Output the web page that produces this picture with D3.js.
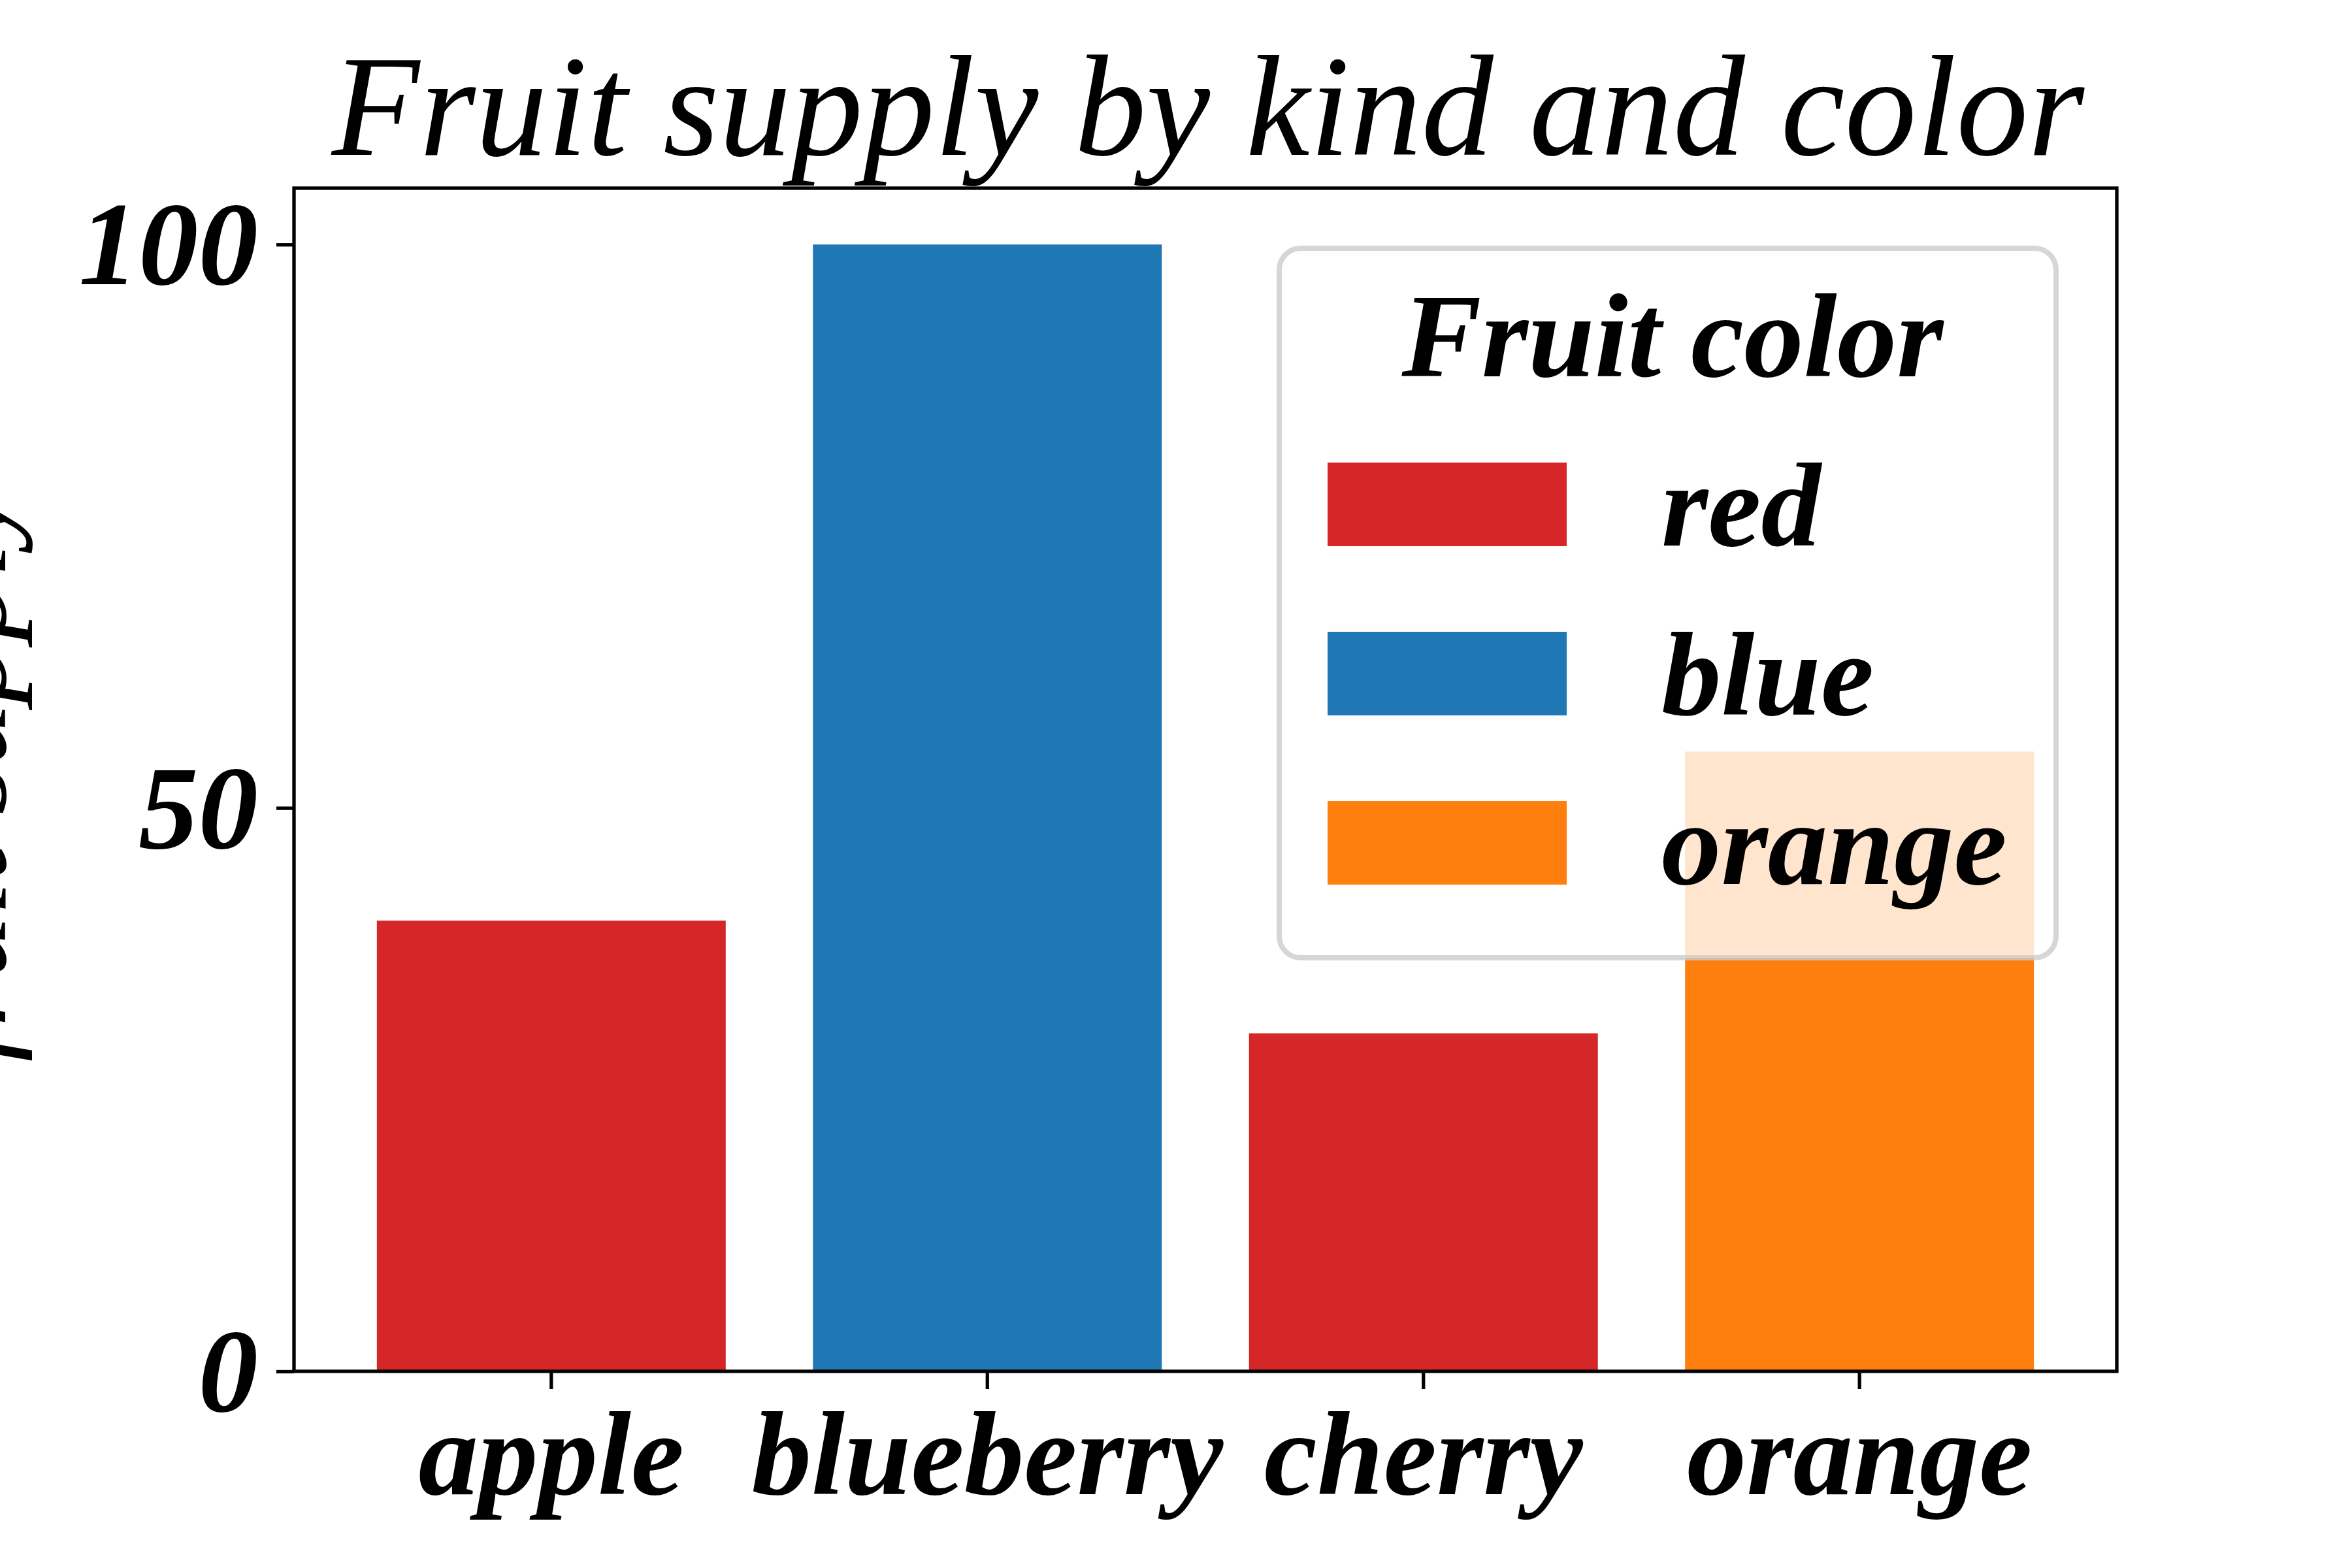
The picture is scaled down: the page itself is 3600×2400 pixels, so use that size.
<!DOCTYPE html>
<meta charset="utf-8">
<style> /* set the CSS */

body {
  margin: 0;
  background: #fff;
}

text {
  font-family: "Liberation Serif", "DejaVu Serif", serif;
  fill: #000;
}

.title, .ylabel {
  font-style: italic;
  font-weight: normal;
}

.tick text, .legend text {
  font-style: italic;
  font-weight: bold;
  font-size: 183px;
}
</style>
<body>

<!-- load the d3.js library -->
<script src="https://d3js.org/d3.v7.min.js"></script>
<script>

// the data
var fruits = ["apple", "blueberry", "cherry", "orange"];
var counts = [40, 100, 30, 55];
var barColors = ["#d62728", "#1f77b4", "#d62728", "#ff7f0e"];
var legendLabels = ["red", "blue", "orange"];
var legendColors = ["#d62728", "#1f77b4", "#ff7f0e"];
var yTicks = [0, 50, 100];

// set the dimensions and margins of the graph
var W = 3600, H = 2400;
var margin = {top: 288, right: 360, bottom: 301, left: 450},
    width = W - margin.left - margin.right,
    height = H - margin.top - margin.bottom;

// set the ranges
var x = d3.scaleBand()
    .domain(fruits)
    .range([0, width])
    .paddingInner(0.2)
    .paddingOuter(0.19);
var y = d3.scaleLinear().domain([0, 105]).range([height, 0]);

var svg = d3.select("body").append("svg")
    .attr("width", W)
    .attr("height", H);

var g = svg.append("g")
    .attr("transform", "translate(" + margin.left + "," + margin.top + ")");

// bars
g.selectAll(".bar")
    .data(fruits)
  .enter().append("rect")
    .attr("class", "bar")
    .attr("x", function(d) { return x(d); })
    .attr("width", x.bandwidth())
    .attr("y", function(d, i) { return y(counts[i]); })
    .attr("height", function(d, i) { return height - y(counts[i]); })
    .attr("fill", function(d, i) { return barColors[i]; });

// frame
g.append("rect")
    .attr("width", width)
    .attr("height", height)
    .attr("fill", "none")
    .attr("stroke", "#000")
    .attr("stroke-width", 5.3);

// x axis
var xAxis = g.append("g")
    .attr("transform", "translate(0," + height + ")")
    .call(d3.axisBottom(x).tickSize(27).tickSizeOuter(0));
xAxis.select(".domain").remove();
xAxis.selectAll(".tick line").attr("stroke-width", 5.3);
xAxis.selectAll(".tick text")
    .attr("y", 2287 - margin.top - height)
    .attr("dy", 0)
    .attr("font-size", null);

// y axis
var yAxis = g.append("g")
    .call(d3.axisLeft(y).tickValues(yTicks).tickSize(27).tickSizeOuter(0));
yAxis.select(".domain").remove();
yAxis.selectAll(".tick line").attr("stroke-width", 5.3);
yAxis.selectAll(".tick text")
    .attr("x", -55)
    .attr("dy", "0.33em")
    .attr("font-size", null);

// title
svg.append("text")
    .attr("class", "title")
    .attr("x", margin.left + width / 2 + 4)
    .attr("y", 237)
    .attr("text-anchor", "middle")
    .style("font-size", "220px")
    .text("Fruit supply by kind and color");

// y label (cut off at the left edge, like the original)
svg.append("text")
    .attr("class", "ylabel")
    .attr("transform", "translate(8," + (margin.top + height / 2 - 8) + ") rotate(-90)")
    .attr("text-anchor", "middle")
    .style("font-size", "192px")
    .text("fruit supply");

// legend
var legend = svg.append("g").attr("class", "legend");

legend.append("rect")
    .attr("x", 1958)
    .attr("y", 380)
    .attr("width", 1189)
    .attr("height", 1086)
    .attr("rx", 33)
    .attr("fill", "#fff")
    .attr("fill-opacity", 0.8)
    .attr("stroke", "#cccccc")
    .attr("stroke-opacity", 0.8)
    .attr("stroke-width", 8);

legend.append("text")
    .attr("x", 2560)
    .attr("y", 576)
    .attr("text-anchor", "middle")
    .text("Fruit color");

var ly = d3.scalePoint().domain(legendLabels).range([708, 1226]);

legend.selectAll(".patch")
    .data(legendLabels)
  .enter().append("rect")
    .attr("class", "patch")
    .attr("x", 2032)
    .attr("y", function(d) { return ly(d); })
    .attr("width", 366)
    .attr("height", 128)
    .attr("fill", function(d, i) { return legendColors[i]; });

legend.selectAll(".label")
    .data(legendLabels)
  .enter().append("text")
    .attr("class", "label")
    .attr("x", 2543)
    .attr("y", function(d) { return ly(d) + 127; })
    .text(function(d) { return d; });

</script>
</body>
